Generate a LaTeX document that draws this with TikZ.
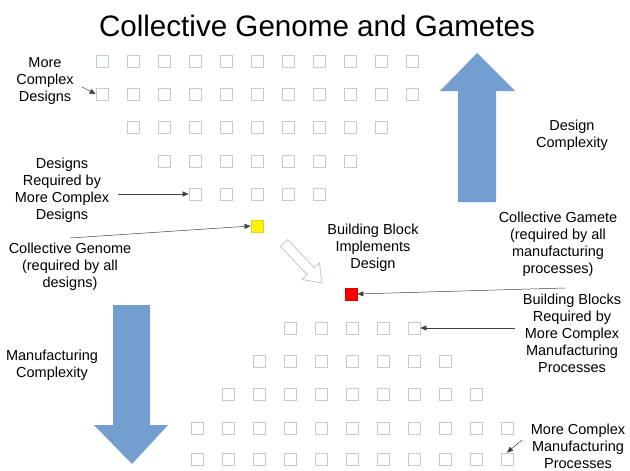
\documentclass[tikz,border=0pt]{standalone}
\usepackage{fontspec}
\setmainfont{Liberation Sans}
\usetikzlibrary{arrows.meta}
\definecolor{sqgray}{HTML}{C3CCD6}
\definecolor{bigblue}{HTML}{729FCF}
\definecolor{hollowc}{HTML}{B8C8DA}
\begin{document}
\begin{tikzpicture}[x=1pt,y=-1pt,
  cell/.style={draw=sqgray, line width=0.8pt, minimum size=12pt, inner sep=0pt, fill=white},
  lbl/.style={align=center, font=\fontsize{14.5}{17}\selectfont, inner sep=0pt},
  pointer/.style={draw=black!75, line width=0.5pt, -{Triangle[length=6pt,width=5pt]}},
  bigarrow/.style={fill=bigblue, draw=none}]
\useasboundingbox (0,0) rectangle (630,471);

% title
\node[font=\fontsize{29.6}{34}\selectfont, inner sep=0pt] (title) at (317,26) {Collective Genome and Gametes};

% big arrows
\path[bigarrow] (458,202) -- (496,202) -- (496,91) -- (515,91) -- (477,53) -- (440,91) -- (458,91) -- cycle;
\path[bigarrow] (113,305) -- (150,305) -- (150,425) -- (168,425) -- (132,464) -- (94,425) -- (113,425) -- cycle;

% hollow arrow
\draw[draw=hollowc, line width=0.8pt, fill=white]
  (287.6,239.6) -- (314.4,267.9) -- (319.5,263.0) -- (321.8,282.9) -- (302.1,279.6) -- (307.2,274.7) -- (280.4,246.4) -- cycle;

% top grid
\foreach \r/\y/\a/\b in {1/61/0/10, 2/94/0/10, 3/127/1/9, 4/161/2/8, 5/194/3/7}
  \foreach \i in {\a,...,\b}
    \node[cell] (t-\r-\i) at ({102+31*\i},\y) {};

% bottom grid
\foreach \r/\y/\a/\b in {1/328/3/7, 2/361/2/8, 3/394/1/9, 4/428/0/10, 5/459/0/10}
  \foreach \i in {\a,...,\b}
    \node[cell] (b-\r-\i) at ({197+31*\i},\y) {};

% special squares
\node[cell, fill=yellow, draw=yellow!85!black] (genome) at (257,226) {};
\node[cell, fill=red, draw=red!85!black] (gamete) at (351,294) {};

% labels
\node[lbl] (mcd) at (45,81) {More\\Complex\\Designs};
\node[lbl] (drmcd) at (62,190) {Designs\\Required by\\More Complex\\Designs};
\node[lbl] (cgen) at (70,267) {Collective Genome\\(required by all\\designs)};
\node[lbl] (dcx) at (572,135) {Design\\Complexity};
\node[lbl] (bbid) at (373,248) {Building Block\\Implements\\Design};
\node[lbl] (cgam) at (558,244) {Collective Gamete\\(required by all\\manufacturing\\processes)};
\node[lbl] (bbr) at (572,333) {Building Blocks\\Required by\\More Complex\\Manufacturing\\Processes};
\node[lbl] (mcx) at (52,365.5) {Manufacturing\\Complexity};
\node[lbl] (mcmp) at (578,446) {More Complex\\Manufacturing\\Processes};

% pointer tails
\coordinate (p1) at (82,87);
\coordinate (p2) at (118,194);
\coordinate (p3) at (70,238);
\coordinate (p4) at (565,288);
\coordinate (p5) at (515,328);
\coordinate (p6) at (522,440);

\draw[pointer] (p1) -- (t-2-0.west);
\draw[pointer] (p2) -- (t-5-3.west);
\draw[pointer] (p3) -- (genome.west);
\draw[pointer] (p4) -- (gamete.east);
\draw[pointer] (p5) -- (b-1-7.east);
\draw[pointer] (p6) -- (b-5-10.north);
\end{tikzpicture}
\end{document}
